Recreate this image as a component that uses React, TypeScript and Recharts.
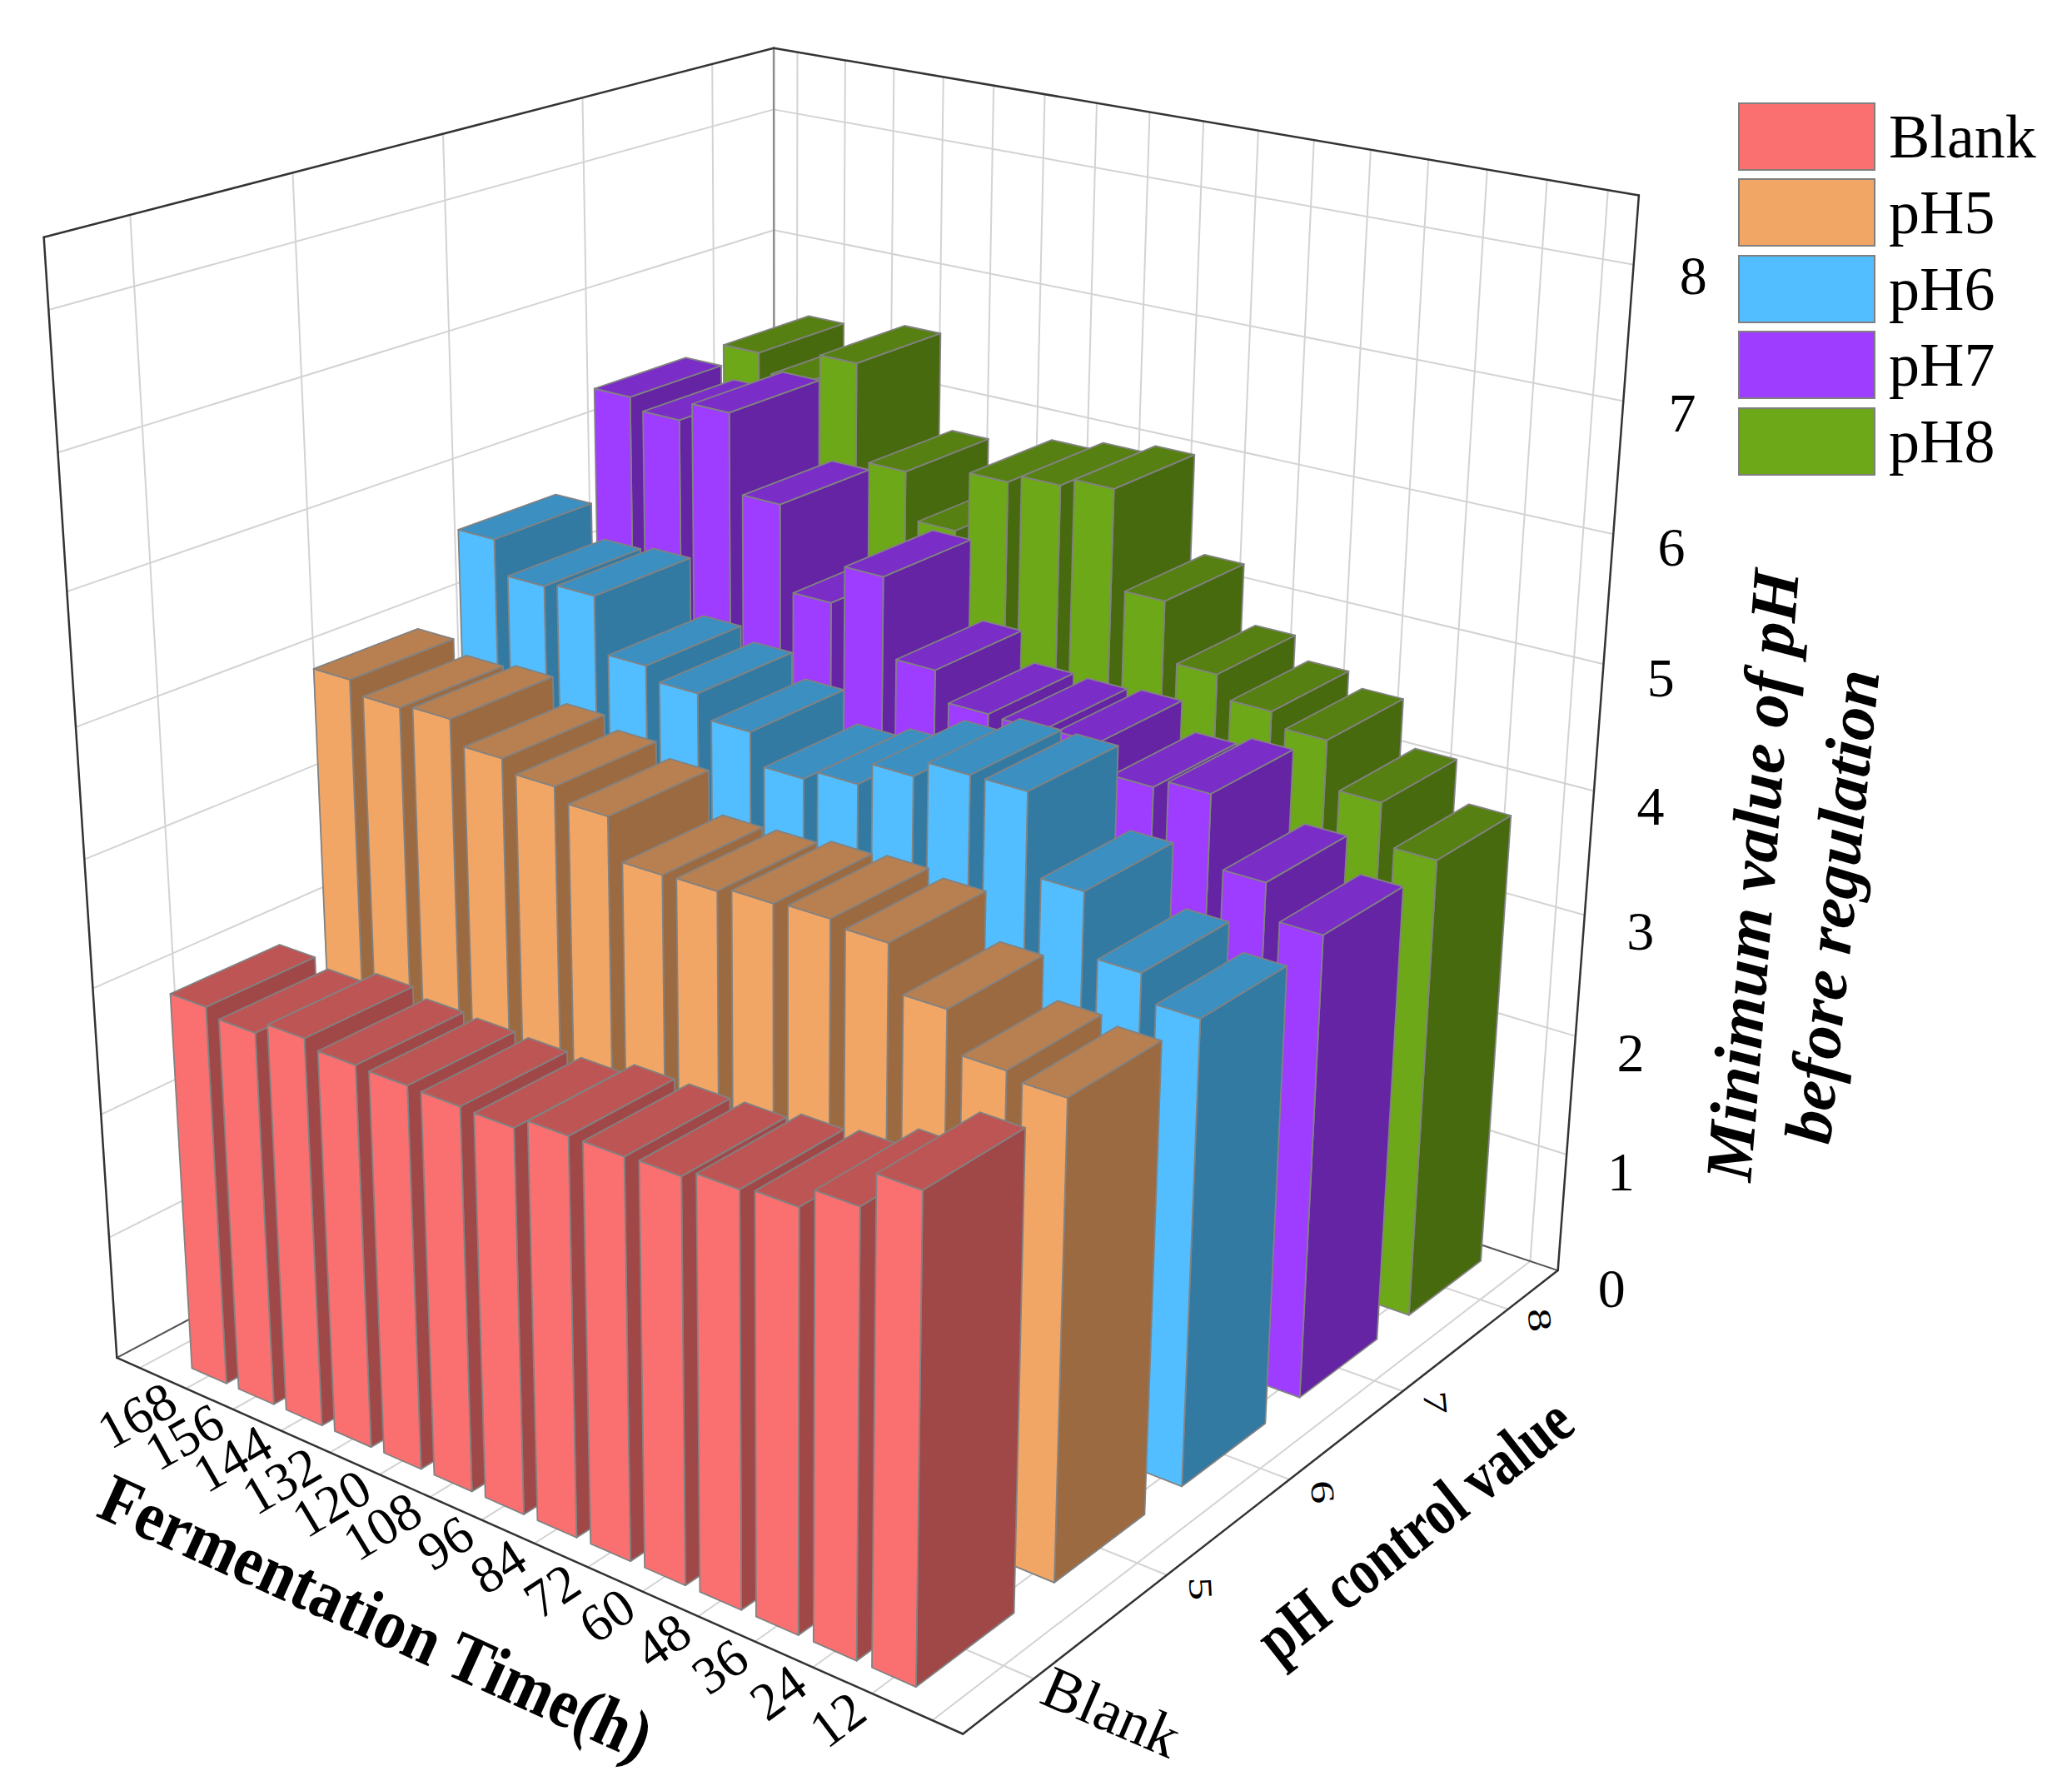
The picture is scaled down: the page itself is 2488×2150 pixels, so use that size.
import React from "react";
import { BarChart, Bar, XAxis, YAxis, Legend, Customized } from "recharts";

const W = 2488;
const H = 2150;
const Z_MAX = 8.5;

const times = ["168", "156", "144", "132", "120", "108", "96", "84", "72", "60", "48", "36", "24", "12"];
const blank = [3.03, 2.97, 3.07, 3.01, 3.0, 2.99, 2.98, 3.07, 3.07, 3.08, 3.14, 3.17, 3.33, 3.6];
const ph5 = [5.04, 4.94, 4.97, 4.79, 4.7, 4.6, 4.29, 4.3, 4.34, 4.36, 4.32, 3.98, 3.68, 3.63];
const ph6 = [5.69, 5.43, 5.46, 5.03, 4.93, 4.75, 4.51, 4.59, 4.77, 4.9, 4.9, 4.29, 3.82, 3.62];
const ph7 = [6.42, 6.33, 6.48, 5.86, 5.19, 5.5, 4.88, 4.65, 4.64, 4.66, 4.44, 4.51, 3.96, 3.69];
const ph8 = [6.42, 6.27, 6.51, 5.73, 5.35, 5.84, 5.91, 5.98, 5.2, 4.73, 4.55, 4.44, 4.07, 3.74];

const seriesNames = ["Blank", "pH5", "pH6", "pH7", "pH8"];
const phTicks = ["Blank", "5", "6", "7", "8"];
const valueTicks = [0, 1, 2, 3, 4, 5, 6, 7, 8];

const frontColors = ["#FA7070", "#F2A666", "#52BEFF", "#9E3CFF", "#6DA818"];
const topColors = ["#BE5555", "#B88050", "#3C8FC1", "#7B2DC8", "#568012"];
const sideColors = ["#A04848", "#9C6A40", "#337AA3", "#6424A3", "#486A0F"];

const rows = times.map((t, i) => ({
  time: t,
  Blank: blank[i],
  pH5: ph5[i],
  pH6: ph6[i],
  pH7: ph7[i],
  pH8: ph8[i],
}));

// time axis runs over 16 grid slots, the 14 bars sit in slots 2..15
const SLOTS = 16;
const FONT = "'Liberation Serif', 'Times New Roman', serif";

type P3 = [number, number, number];

// perspective camera fitted to the box corners of the original figure
const K = 2488 / 1560;
function proj([X, Y, V]: P3): [number, number] {
  const z = V / Z_MAX;
  const cx = -501 + 617.9 * X + 494.0 * Y;
  const cy = 487 + 175.0 * X - 221.3 * Y - 808.2 * z;
  const cz = 3191 - 448.0 * X + 595.4 * Y - 315.6 * z;
  return [K * (589 + (3191 * cx) / cz), K * (535 + (3191 * cy) / cz)];
}

const pts = (list: P3[]) => list.map((p) => proj(p).map((n) => n.toFixed(1)).join(",")).join(" ");

function angle(a: P3, b: P3) {
  const [x1, y1] = proj(a);
  const [x2, y2] = proj(b);
  return (Math.atan2(y2 - y1, x2 - x1) * 180) / Math.PI;
}

function Prism(props: any) {
  const { x, y, width, height, row } = props;
  if (!height || height <= 0) return <g />;
  const X0 = x / W;
  const X1 = (x + width) / W;
  const top = (height / H) * Z_MAX;
  const Y0 = (row + 0.5) / phTicks.length - 0.07;
  const Y1 = Y0 + 0.14;
  const stroke = "#828282";
  return (
    <g>
      <polygon
        points={pts([[X1, Y0, 0], [X1, Y1, 0], [X1, Y1, top], [X1, Y0, top]])}
        fill={sideColors[row]}
        stroke={stroke}
        strokeWidth={1.8}
        strokeLinejoin="round"
      />
      <polygon
        points={pts([[X0, Y0, 0], [X1, Y0, 0], [X1, Y0, top], [X0, Y0, top]])}
        fill={frontColors[row]}
        stroke={stroke}
        strokeWidth={1.8}
        strokeLinejoin="round"
      />
      <polygon
        points={pts([[X0, Y0, top], [X1, Y0, top], [X1, Y1, top], [X0, Y1, top]])}
        fill={topColors[row]}
        stroke={stroke}
        strokeWidth={1.8}
        strokeLinejoin="round"
      />
    </g>
  );
}

function Frame() {
  const els: React.ReactNode[] = [];
  let n = 0;
  const GRID = "#d3d3d3";
  const EDGE = "#333333";
  const seg = (a: P3, b: P3, stroke: string, w: number) => {
    const [x1, y1] = proj(a);
    const [x2, y2] = proj(b);
    els.push(<line key={n++} x1={x1} y1={y1} x2={x2} y2={y2} stroke={stroke} strokeWidth={w} strokeLinecap="round" />);
  };
  const xs = Array.from({ length: SLOTS }, (_, k) => (k + 0.5) / SLOTS);
  const ys = phTicks.map((_, j) => (j + 0.5) / phTicks.length);

  // floor
  xs.forEach((X) => seg([X, 0, 0], [X, 1, 0], GRID, 2));
  ys.forEach((Y) => seg([0, Y, 0], [1, Y, 0], GRID, 2));
  // left wall
  ys.forEach((Y) => seg([0, Y, 0], [0, Y, Z_MAX], GRID, 2));
  valueTicks.slice(1).forEach((V) => seg([0, 0, V], [0, 1, V], GRID, 2));
  // back wall
  xs.forEach((X) => seg([X, 1, 0], [X, 1, Z_MAX], GRID, 2));
  valueTicks.slice(1).forEach((V) => seg([0, 1, V], [1, 1, V], GRID, 2));
  // box edges
  seg([0, 1, 0], [0, 1, Z_MAX], "#8c8c8c", 2.5);
  seg([0, 0, 0], [0, 1, 0], "#555555", 2);
  seg([0, 1, 0], [1, 1, 0], "#555555", 2);
  seg([0, 0, 0], [0, 0, Z_MAX], EDGE, 2.5);
  seg([0, 0, Z_MAX], [0, 1, Z_MAX], EDGE, 2.5);
  seg([0, 1, Z_MAX], [1, 1, Z_MAX], EDGE, 2.5);
  seg([1, 1, 0], [1, 1, Z_MAX], EDGE, 2.5);
  seg([0, 0, 0], [1, 0, 0], EDGE, 2.5);
  seg([1, 0, 0], [1, 1, 0], EDGE, 2.5);

  // time tick labels
  times.forEach((t, i) => {
    const X = (1.5 + i) / SLOTS;
    const [px, py] = proj([X, -0.018, 0]);
    const a = angle([X, 0, 0], [X, 0.1, 0]);
    els.push(
      <text key={n++} x={px} y={py} transform={`rotate(${a.toFixed(2)} ${px} ${py})`} textAnchor="end"
        dominantBaseline="central" fontFamily={FONT} fontSize={64} fill="#000">{t}</text>
    );
  });

  // pH control tick labels
  phTicks.forEach((t, j) => {
    const Y = (j + 0.5) / phTicks.length;
    const a = angle([1, Y, 0], [1.1, Y, 0]);
    if (j === 0) {
      const [px, py] = proj([1.012, Y, 0]);
      els.push(
        <text key={n++} x={px} y={py} transform={`rotate(${a.toFixed(2)} ${px} ${py})`} textAnchor="start"
          dominantBaseline="central" fontFamily={FONT} fontSize={72} fill="#000">{t}</text>
      );
    } else {
      const [px, py] = proj([1.035, Y, 0]);
      els.push(
        <text key={n++} x={0} y={0} transform={`translate(${px.toFixed(1)} ${py.toFixed(1)}) rotate(${(a + 65).toFixed(2)}) scale(0.85 0.6)`}
          textAnchor="middle" dominantBaseline="central" fontFamily={FONT} fontSize={66} fill="#000">{t}</text>
      );
    }
  });

  // value tick labels
  valueTicks.forEach((v) => {
    const [px, py] = proj([1.06, 1, v]);
    els.push(
      <text key={n++} x={px} y={py} textAnchor="middle" dominantBaseline="central" fontFamily={FONT} fontSize={66} fill="#000">{v}</text>
    );
  });

  // axis titles
  els.push(
    <text key={n++} x={0} y={0} transform="translate(452 1941) rotate(24.3) scale(0.9 1)" textAnchor="middle"
      dominantBaseline="central" fontFamily={FONT} fontWeight="bold" fontSize={84} fill="#000">Fermentation Time(h)</text>
  );
  els.push(
    <text key={n++} x={0} y={0} transform="translate(1698 1836) rotate(-38.2) scale(0.8 1)" textAnchor="middle"
      dominantBaseline="central" fontFamily={FONT} fontWeight="bold" fontSize={80} fill="#000">pH control value</text>
  );
  els.push(
    <text key={n++} x={2104} y={1051} transform="rotate(-85.5 2104 1051)" textAnchor="middle" dominantBaseline="central"
      fontFamily={FONT} fontWeight="bold" fontStyle="italic" fontSize={80} fill="#000">Minimum value of pH</text>
  );
  els.push(
    <text key={n++} x={2200} y={1088} transform="rotate(-84 2200 1088)" textAnchor="middle" dominantBaseline="central"
      fontFamily={FONT} fontWeight="bold" fontStyle="italic" fontSize={80} fill="#000">before regulation</text>
  );

  return <g>{els}</g>;
}

function LegendBox() {
  return (
    <div>
      {seriesNames.map((name, i) => (
        <div key={name} style={{ display: "flex", alignItems: "center", height: 91.5 }}>
          <div
            style={{
              width: 165,
              height: 82,
              background: frontColors[i],
              border: "2.5px solid #7f7f7f",
              boxSizing: "border-box",
            }}
          />
          <span style={{ marginLeft: 16, fontFamily: FONT, fontSize: 74, lineHeight: 1, color: "#000" }}>{name}</span>
        </div>
      ))}
    </div>
  );
}

const layer: React.CSSProperties = { position: "absolute", left: 0, top: 0 };

export default function App() {
  const drawOrder = [4, 3, 2, 1, 0];
  return (
    <div>
      <div style={layer}>
        <BarChart width={W} height={H} data={rows} margin={{ top: 0, right: 0, bottom: 0, left: 0 }}>
          <Customized component={<Frame />} />
        </BarChart>
      </div>
      <div style={layer}>
        <BarChart
          width={W}
          height={H}
          data={rows}
          margin={{ top: 0, right: W / SLOTS, bottom: 0, left: W / SLOTS }}
          barCategoryGap="13%"
        >
          {drawOrder.map((r) => (
            <XAxis key={`x${r}`} xAxisId={r} dataKey="time" hide />
          ))}
          <YAxis hide domain={[0, Z_MAX]} />
          {drawOrder.map((r) => (
            <Bar
              key={seriesNames[r]}
              dataKey={seriesNames[r]}
              xAxisId={r}
              isAnimationActive={false}
              shape={(p: any) => <Prism {...p} row={r} />}
            />
          ))}
          <Legend
            layout="vertical"
            align="center"
            verticalAlign="middle"
            wrapperStyle={{ position: "absolute", left: 2087, top: 118, width: 400, height: 460 }}
            content={() => <LegendBox />}
          />
        </BarChart>
      </div>
    </div>
  );
}
